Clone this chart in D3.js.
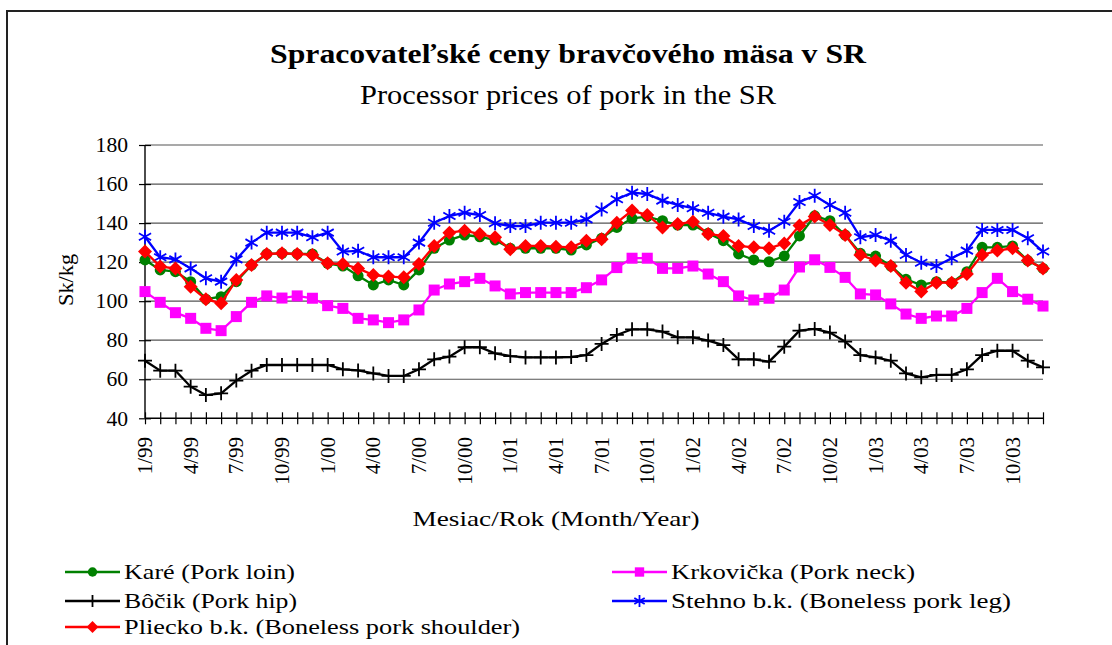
<!DOCTYPE html>
<html>
<head>
<meta charset="utf-8">
<script src="https://cdn.jsdelivr.net/npm/d3@7"></script>
<style>
  html, body { margin: 0; padding: 0; background: #fff; }
  svg { display: block; }
  svg text { font-family: "Liberation Serif", "Times New Roman", serif !important; }
</style>
</head>
<body>
<svg id="chart" width="1112" height="645"></svg>
<script>
// ---------------- DATA ----------------
const categories = [
  "1/99","2/99","3/99","4/99","5/99","6/99","7/99","8/99","9/99","10/99","11/99","12/99",
  "1/00","2/00","3/00","4/00","5/00","6/00","7/00","8/00","9/00","10/00","11/00","12/00",
  "1/01","2/01","3/01","4/01","5/01","6/01","7/01","8/01","9/01","10/01","11/01","12/01",
  "1/02","2/02","3/02","4/02","5/02","6/02","7/02","8/02","9/02","10/02","11/02","12/02",
  "1/03","2/03","3/03","4/03","5/03","6/03","7/03","8/03","9/03","10/03","11/03","12/03"
];
const tickLabels = ["1/99","4/99","7/99","10/99","1/00","4/00","7/00","10/00","1/01","4/01",
  "7/01","10/01","1/02","4/02","7/02","10/02","1/03","4/03","7/03","10/03"];
const yTicks = [40, 60, 80, 100, 120, 140, 160, 180];

const kare = [121.1,116,115.1,110,101,102.3,110,118.5,124.2,124.5,124.2,124.2,119.4,118,113,
  108.3,110.9,108.3,116,127.1,131.3,133.9,133,131.3,127.1,127.1,127.1,127.1,126.2,
  128.8,132.2,137.8,142.4,143.3,141.2,139,139,134.8,131,124.2,121.1,120.2,123.1,133.4,143.7,
  141.2,133.9,124.5,123.1,118,111.2,108.3,110,109.5,115.1,127.6,127.6,128.3,120.8,116.8];
const krkovicka = [104.9,99.4,94.1,91.2,86.1,84.9,92.1,99.4,102.7,101.6,102.7,101.5,97.7,96.3,91.2,
  90.4,89,90.4,95.5,105.7,108.8,110,111.7,107.8,103.7,104.4,104.4,104.4,104.4,
  106.9,110.9,117.2,122,122,116.8,116.8,118,113.9,110,102.7,100.6,101.5,105.7,117.5,121.2,
  117.3,112.2,103.7,103.2,98.6,93.4,91.2,92.4,92.4,96.3,104.4,111.7,104.9,101,97.5];
const bocik = [69.5,64.4,64.4,56.2,51.9,52.8,59.3,64.4,67.3,67.3,67.3,67.3,67.3,65.1,64.5,
  63,61.7,61.7,65.1,70.2,71.6,76.4,76.4,73.3,71.9,71.2,71.2,71.2,71.4,
  72.4,78.1,82.7,85.6,85.6,84.4,81.5,81.5,79.8,77.5,70.2,70.2,69,76.7,84.9,85.8,
  83.9,79.3,72.4,71.2,69.5,63,61,62.2,62.2,65.1,72.4,74.6,74.6,69.5,66.1];
const stehno = [133,122.5,121.4,116.8,111.7,110,121.4,130,135.1,135.1,135.1,132.7,135.1,125.4,125.8,
  122.5,122.5,122.5,130,140.2,143.6,145.3,144.1,139.9,138.5,138.5,140.2,140.2,140.2,
  141.9,147,152.2,155.6,154.9,151.5,149.3,147.6,145.3,143.3,141.9,138.5,136.1,140.7,150.8,154,
  149.3,145.3,132.7,133.9,131,123.7,119.7,118,122,125.9,136.5,136.5,136.5,132.2,125.4];
const pliecko = [125.4,117.7,116.8,107.4,101,98.9,110.9,118.5,124.2,124.5,124.2,123.7,119.4,119,116.8,
  113.4,112.6,112.2,119,128.3,135.1,136.1,134.4,132.7,126.6,128.3,128.3,127.9,127.6,
  131,131.7,140.2,146.4,144.1,137.8,139.5,140.7,134.4,133.4,128.3,127.6,127.1,129.6,138.8,143.4,
  139,133.9,123.7,120.8,118,109.5,104.9,109.5,109.5,113.9,123.7,125.9,127.1,120.8,116.8];

const seriesNames = ["Karé (Pork loin)", "Krkovička (Pork neck)", "Bôčik (Pork hip)",
  "Stehno b.k. (Boneless pork leg)", "Pliecko b.k. (Boneless pork shoulder)"];
const seriesValues = [kare, krkovicka, bocik, stehno, pliecko];
const seriesColors = ["#008000", "#FF00FF", "#000000", "#0000FF", "#FF0000"];
const seriesMarkers = ["circle", "square", "plus", "star", "diamond"];

const titleText = "Spracovateľské ceny bravčového mäsa v SR";
const subtitleText = "Processor prices of pork in the SR";
const yTitle = "Sk/kg";
const xTitle = "Mesiac/Rok (Month/Year)";

// ---------------- LAYOUT ----------------
const FONT = "Liberation Serif";
const svg = d3.select("#chart");
const plot = { left: 145, right: 1043, top: 145, bottom: 418.3 };

// outer frame
svg.append("rect").attr("x", 7).attr("y", 11).attr("width", 1200).attr("height", 700)
  .attr("fill", "none").attr("stroke", "#222").attr("stroke-width", 2);

const x = d3.scalePoint().domain(d3.range(categories.length)).range([plot.left, plot.right]);
const y = d3.scaleLinear().domain([40, 180]).range([plot.bottom, plot.top]);

// gridlines
svg.append("g").selectAll("line").data(yTicks.filter(d => d > 40)).join("line")
  .attr("x1", plot.left).attr("x2", plot.right)
  .attr("y1", d => y(d)).attr("y2", d => y(d))
  .attr("stroke", "#555").attr("stroke-width", 1.2);

// y axis
const yAxis = svg.append("g").attr("transform", `translate(${plot.left},0)`)
  .call(d3.axisLeft(y).tickValues(yTicks).tickSize(6).tickPadding(11));
yAxis.attr("font-family", FONT);
yAxis.select(".domain").attr("stroke", "#000").attr("stroke-width", 1.4).attr("d", `M0,${plot.top}V${plot.bottom}`);
yAxis.selectAll(".tick line").attr("x2", -6).attr("x1", 6).attr("stroke", "#000").attr("stroke-width", 1.2);
yAxis.selectAll(".tick text").attr("font-size", 21).attr("fill", "#000")
  .attr("font-family", FONT).attr("x", -17)
  .attr("textLength", d => String(d).length * 10.8).attr("lengthAdjust", "spacingAndGlyphs");

// x axis
const xAxis = svg.append("g").attr("transform", `translate(0,${plot.bottom})`)
  .call(d3.axisBottom(x).tickSize(6).tickFormat(""));
xAxis.select(".domain").attr("stroke", "#000").attr("stroke-width", 1.4).attr("d", `M${plot.left},0H${plot.right}`);
xAxis.selectAll(".tick line").attr("y1", -6).attr("y2", 6).attr("stroke", "#000").attr("stroke-width", 1.2);

// x tick labels (every third month)
svg.append("g").selectAll("text").data(tickLabels).join("text")
  .attr("transform", d => `translate(${x(categories.indexOf(d))},437) rotate(-90)`)
  .attr("text-anchor", "end").attr("dy", "0.34em")
  .attr("font-family", FONT).attr("font-size", 21).attr("fill", "#000")
  .text(d => d);

// series lines
const line = d3.line().x((d, i) => x(i)).y(d => y(d));
const starPath = (s) => `M0,${-s}V${s}M${-s*0.87},${-s*0.5}L${s*0.87},${s*0.5}M${-s*0.87},${s*0.5}L${s*0.87},${-s*0.5}`;
function drawMarker(g, type, color, scale) {
  const k = scale || 1;
  if (type === "circle") g.append("circle").attr("r", 5.5 * k).attr("fill", color);
  else if (type === "square") g.append("rect").attr("x", -5.5 * k).attr("y", -5.5 * k)
    .attr("width", 11 * k).attr("height", 11 * k).attr("fill", color);
  else if (type === "diamond") g.append("path")
    .attr("d", `M0,${-7*k}L${7*k},0L0,${7*k}L${-7*k},0Z`).attr("fill", color);
  else if (type === "plus") g.append("path")
    .attr("d", `M0,${-7*k}V${7*k}M${-7*k},0H${7*k}`).attr("stroke", color).attr("stroke-width", 1.8).attr("fill", "none");
  else if (type === "star") g.append("path")
    .attr("d", starPath(7 * k)).attr("stroke", color).attr("stroke-width", 1.8).attr("fill", "none");
}

seriesValues.forEach((vals, si) => {
  const g = svg.append("g");
  g.append("path").datum(vals).attr("d", line).attr("fill", "none")
    .attr("stroke", seriesColors[si]).attr("stroke-width", 2.3);
  g.selectAll("g.m").data(vals).join("g").attr("class", "m")
    .attr("transform", (d, i) => `translate(${x(i)},${y(d)})`)
    .each(function () { drawMarker(d3.select(this), seriesMarkers[si], seriesColors[si]); });
});

// titles
svg.append("text").attr("x", 568).attr("y", 63).attr("text-anchor", "middle")
  .attr("font-family", FONT).attr("font-size", 27).attr("font-weight", "bold").attr("fill", "#000")
  .attr("textLength", 596).attr("lengthAdjust", "spacingAndGlyphs").text(titleText);
svg.append("text").attr("x", 568).attr("y", 104).attr("text-anchor", "middle")
  .attr("font-family", FONT).attr("font-size", 27).attr("fill", "#000")
  .attr("textLength", 416).attr("lengthAdjust", "spacingAndGlyphs").text(subtitleText);

// y axis title
svg.append("text").attr("transform", "translate(73,280) rotate(-90)").attr("text-anchor", "middle")
  .attr("font-family", FONT).attr("font-size", 21).attr("fill", "#000")
  .attr("textLength", 52).attr("lengthAdjust", "spacingAndGlyphs").text(yTitle);
// x axis title
svg.append("text").attr("x", 556).attr("y", 526).attr("text-anchor", "middle")
  .attr("font-family", FONT).attr("font-size", 21).attr("fill", "#000")
  .attr("textLength", 287).attr("lengthAdjust", "spacingAndGlyphs").text(xTitle);

// legend
const legendPos = [
  { lx: 65, ly: 572, w: 171 }, { lx: 612, ly: 572, w: 244 },
  { lx: 65, ly: 601, w: 173 }, { lx: 612, ly: 601, w: 340 },
  { lx: 65, ly: 627, w: 396 }
];
seriesNames.forEach((name, si) => {
  const p = legendPos[si];
  const g = svg.append("g").attr("transform", `translate(${p.lx},${p.ly})`);
  g.append("line").attr("x1", 0).attr("x2", 55).attr("stroke", seriesColors[si]).attr("stroke-width", 2.3);
  const mg = g.append("g").attr("transform", "translate(27.5,0)");
  drawMarker(mg, seriesMarkers[si], seriesColors[si], 0.85);
  g.append("text").attr("x", 59).attr("dy", "0.33em")
    .attr("font-family", FONT).attr("font-size", 21).attr("fill", "#000")
    .attr("textLength", p.w).attr("lengthAdjust", "spacingAndGlyphs").text(name);
});
</script>
</body>
</html>
